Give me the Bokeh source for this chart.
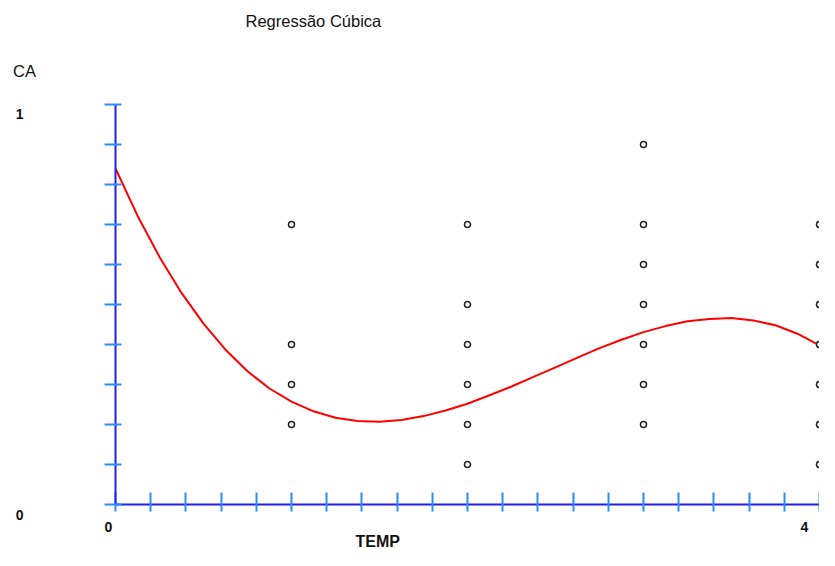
from bokeh.plotting import figure
from bokeh.models import Range1d, LinearAxis, SingleIntervalTicker, CustomJSTickFormatter, Label
from bokeh.embed import file_html
from bokeh.resources import INLINE

# ---- data ----
title_text = "Regressão Cúbica"
x_name = "TEMP"
y_name = "CA"

temp = [1, 1, 1, 1,
        2, 2, 2, 2, 2, 2,
        3, 3, 3, 3, 3, 3, 3,
        4, 4, 4, 4, 4, 4, 4]
ca = [0.7, 0.4, 0.3, 0.2,
      0.7, 0.5, 0.4, 0.3, 0.2, 0.1,
      0.9, 0.7, 0.6, 0.5, 0.4, 0.3, 0.2,
      0.7, 0.6, 0.5, 0.4, 0.3, 0.2, 0.1]

# cubic regression curve
curve_x = [0.0, 0.125, 0.25, 0.375, 0.5, 0.625, 0.75, 0.875,
           1.0, 1.125, 1.25, 1.375, 1.5, 1.625, 1.75, 1.875,
           2.0, 2.125, 2.25, 2.375, 2.5, 2.625, 2.75, 2.875,
           3.0, 3.125, 3.25, 3.375, 3.5, 3.625, 3.75, 3.875, 4.0]
curve_y = [0.840, 0.722, 0.619, 0.529, 0.452, 0.387, 0.333, 0.290,
           0.257, 0.233, 0.217, 0.209, 0.207, 0.211, 0.221, 0.235,
           0.252, 0.273, 0.295, 0.319, 0.343, 0.367, 0.391, 0.412,
           0.431, 0.446, 0.458, 0.464, 0.466, 0.460, 0.448, 0.427, 0.398]

x_tick_values = [0, 4]
x_tick_text = ["0", "4"]
y_tick_values = [0, 1]
y_tick_text = ["0", "1"]

# ---- figure (frame fills the canvas; axes sit at data 0) ----
W, H = 819, 550
p = figure(width=W, height=H, output_backend="svg", toolbar_location=None,
           x_range=Range1d(-115 / 176, 4.0), y_range=Range1d(-46 / 400, 1 + 104 / 400),
           x_axis_type=None, y_axis_type=None,
           min_border=0, min_border_left=0, min_border_right=0,
           min_border_top=0, min_border_bottom=0)
p.outline_line_color = None
p.grid.visible = False
p.background_fill_color = "white"
p.border_fill_color = "white"

axis_blue = "#1f1ff2"
tick_blue = "#2a8cff"
font = "Liberation Sans"
txt = "#111111"
blank = CustomJSTickFormatter(code='return "";')

yaxis = LinearAxis(ticker=SingleIntervalTicker(interval=0.1, num_minor_ticks=0),
                   formatter=blank, fixed_location=0, bounds=(0, 1))
yaxis.axis_line_color = axis_blue
yaxis.axis_line_width = 2
yaxis.major_tick_line_color = tick_blue
yaxis.major_tick_line_width = 2
yaxis.major_tick_in = 6
yaxis.major_tick_out = 11
yaxis.minor_tick_line_color = None
p.add_layout(yaxis, "left")

xaxis = LinearAxis(ticker=SingleIntervalTicker(interval=0.2, num_minor_ticks=0),
                   formatter=blank, fixed_location=0, bounds=(0, 4))
xaxis.axis_line_color = axis_blue
xaxis.axis_line_width = 2
xaxis.major_tick_line_color = tick_blue
xaxis.major_tick_line_width = 2
xaxis.major_tick_in = 12
xaxis.major_tick_out = 7
xaxis.minor_tick_line_color = None
p.add_layout(xaxis, "below")

# ---- glyphs ----
p.line(curve_x, curve_y, line_color="#ff0000", line_width=2)
p.scatter(temp, ca, marker="circle", size=6, fill_color="white",
          line_color="#222222", line_width=1.5)

# ---- tick labels ----
x_tick_offsets = [-7, -15]
for v, t, dx in zip(x_tick_values, x_tick_text, x_tick_offsets):
    p.add_layout(Label(x=v, y=0, x_offset=dx, y_offset=-22.5, text=t,
                       text_font=font, text_font_size="14px", text_font_style="bold",
                       text_color=txt, text_align="center", text_baseline="alphabetic"))
y_tick_offsets = [-10, -9.5]
for v, t, dy in zip(y_tick_values, y_tick_text, y_tick_offsets):
    p.add_layout(Label(x=0, y=v, x_offset=-92, y_offset=dy, text=t,
                       text_font=font, text_font_size="14px", text_font_style="bold",
                       text_color=txt, text_align="right", text_baseline="alphabetic"))

# ---- titles ----
p.add_layout(Label(x=0, y=1, x_offset=130, y_offset=83.5, text=title_text,
                   text_font=font, text_font_size="16.5px", text_color=txt,
                   text_baseline="alphabetic", text_align="left"))
p.add_layout(Label(x=0, y=1, x_offset=-102.5, y_offset=34, text=y_name,
                   text_font=font, text_font_size="16.5px", text_color=txt,
                   text_baseline="alphabetic", text_align="left"))
p.add_layout(Label(x=0, y=0, x_offset=240, y_offset=-37, text=x_name,
                   text_font=font, text_font_size="16px", text_font_style="bold",
                   text_color=txt, text_baseline="alphabetic", text_align="left"))

open("out.html", "w").write(file_html(p, INLINE))
